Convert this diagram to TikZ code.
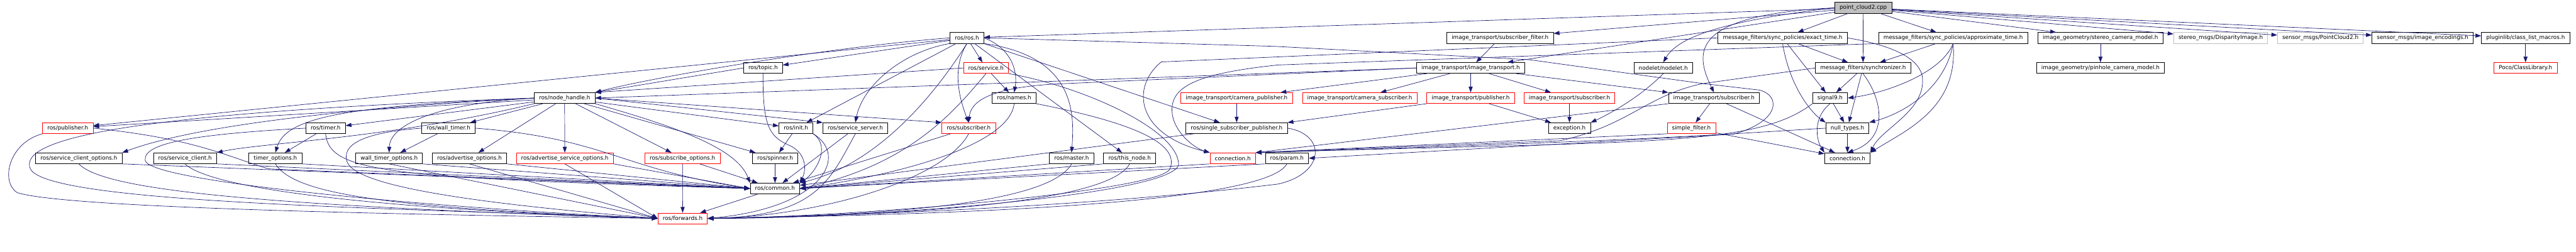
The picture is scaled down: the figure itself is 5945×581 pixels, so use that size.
\documentclass[tikz,border=0pt]{standalone}
\usepackage{fontspec}
\usepackage{tikz}
\usetikzlibrary{arrows.meta}
\newfontfamily\graphfont{DejaVu Sans}
\definecolor{edgeblue}{RGB}{25,25,112}
\definecolor{srcgrey}{RGB}{191,191,191}

\begin{document}
\begin{tikzpicture}[x=0.75pt, y=-0.75pt,
  file/.style={draw=black, line width=0.8pt, minimum height=18.75pt, inner xsep=8.4pt, inner ysep=0pt,
    font=\graphfont\fontsize{9.6}{11}\selectfont},
  trunc/.style={file, draw=red},
  nodoc/.style={file, draw=srcgrey},
  src/.style={file, fill=srcgrey},
  inc/.style={draw=edgeblue, line width=0.75pt, -{Triangle[length=10pt, width=7pt]}}]
  \useasboundingbox (0,0) rectangle (5945,581);

  \node[src] (pc) at (4300,18) {point\_cloud2.cpp};

  \node[file] (ros) at (2231.5,87.5) {ros/ros.h};
  \node[file] (itsf) at (3462,87.5) {image\_transport/subscriber\_filter.h};
  \node[file] (exact) at (4114,87.5) {message\_filters/sync\_policies/exact\_time.h};
  \node[file] (approx) at (4507.5,87.5) {message\_filters/sync\_policies/approximate\_time.h};
  \node[file] (stereo) at (4847.5,87.5) {image\_geometry/stereo\_camera\_model.h};
  \node[nodoc] (disp) at (5125,87.5) {stereo\_msgs/DisparityImage.h};
  \node[nodoc] (pctwo) at (5355,87.5) {sensor\_msgs/PointCloud2.h};
  \node[file] (enc) at (5591,87.5) {sensor\_msgs/image\_encodings.h};
  \node[file] (plm) at (5828.5,87.5) {pluginlib/class\_list\_macros.h};

  \node[file] (topic) at (1761,157) {ros/topic.h};
  \node[trunc] (service) at (2275.5,157) {ros/service.h};
  \node[file] (itit) at (3394,157) {image\_transport/image\_transport.h};
  \node[file] (nodelet) at (3838.5,157) {nodelet/nodelet.h};
  \node[file] (sync) at (4299.5,157) {message\_filters/synchronizer.h};
  \node[file] (pinhole) at (4847.5,157) {image\_geometry/pinhole\_camera\_model.h};
  \node[trunc] (poco) at (5828.5,157) {Poco/ClassLibrary.h};

  \node[file] (nh) at (1303,226.5) {ros/node\_handle.h};
  \node[file] (names) at (2340.5,226.5) {ros/names.h};
  \node[trunc] (itcp) at (2854,226.5) {image\_transport/camera\_publisher.h};
  \node[trunc] (itcs) at (3138,226.5) {image\_transport/camera\_subscriber.h};
  \node[trunc] (itpub) at (3394,226.5) {image\_transport/publisher.h};
  \node[trunc] (itsub) at (3622,226.5) {image\_transport/subscriber.h};
  \node[file] (itsubb) at (3955.5,226.5) {image\_transport/subscriber.h};
  \node[file] (sig9) at (4223.5,226.5) {signal9.h};

  \node[trunc] (pub) at (156.5,296) {ros/publisher.h};
  \node[file] (timer) at (751.5,296) {ros/timer.h};
  \node[file] (wtimer) at (1035,296) {ros/wall\_timer.h};
  \node[file] (init) at (1837,296) {ros/init.h};
  \node[file] (srvsrv) at (1974,296) {ros/service\_server.h};
  \node[trunc] (sub) at (2235.5,296) {ros/subscriber.h};
  \node[file] (ssp) at (2854,296) {ros/single\_subscriber\_publisher.h};
  \node[file] (exc) at (3622,296) {exception.h};
  \node[trunc] (sf) at (3903.5,296) {simple\_filter.h};
  \node[file] (nullt) at (4263.5,296) {null\_types.h};

  \node[file] (scopt) at (182,365.5) {ros/service\_client\_options.h};
  \node[file] (sclient) at (427,365.5) {ros/service\_client.h};
  \node[file] (tmopt) at (635.5,365.5) {timer\_options.h};
  \node[file] (wtmopt) at (898,365.5) {wall\_timer\_options.h};
  \node[file] (advopt) at (1083.5,365.5) {ros/advertise\_options.h};
  \node[trunc] (advsrvopt) at (1303.5,365.5) {ros/advertise\_service\_options.h};
  \node[trunc] (subopt) at (1575,365.5) {ros/subscribe\_options.h};
  \node[file] (spin) at (1789,365.5) {ros/spinner.h};
  \node[file] (master) at (2473,365.5) {ros/master.h};
  \node[file] (thisn) at (2607,365.5) {ros/this\_node.h};
  \node[trunc] (conr) at (2845,365.5) {connection.h};
  \node[file] (param) at (2970,365.5) {ros/param.h};
  \node[file] (conb) at (4263.5,365.5) {connection.h};

  \node[file] (common) at (1788.5,435.5) {ros/common.h};
  \node[trunc] (fwd) at (1575.5,504.5) {ros/forwards.h};

  \foreach \t in {ros,itsf,exact,sync,approx,stereo,disp,pctwo,enc,plm,itit}
    \draw[inc] (pc) -- (\t);
  \draw[inc] (pc.west) .. controls (3960,50) and (3870,90) .. (nodelet.north);
  \draw[inc] (pc.west) .. controls (3900,35) and (3910,120) .. (itsubb.north);

  \draw[inc] (ros) -- (pub);
  \draw[inc] (ros.west) .. controls (1900,110) and (1500,180) .. (nh.north east);
  \draw[inc] (ros) -- (topic);
  \draw[inc] (ros) -- (init);
  \draw[inc] (ros.south west) .. controls (2080,120) and (1990,200) .. (srvsrv.north);
  \draw[inc] (ros.south) .. controls (2195,160) and (2215,230) .. (sub.north);
  \draw[inc] (ros) -- (service);
  \draw[inc] (ros.east) .. controls (2330,110) and (2350,160) .. (names.north);
  \draw[inc] (ros.south) .. controls (2150,230) and (2020,380) .. (common.north east);
  \draw[inc] (ros) -- (ssp);
  \draw[inc] (ros.south east) .. controls (2480,130) and (2480,260) .. (master.north);
  \draw[inc] (ros) -- (thisn);
  \draw[inc] (ros.east) -- (2940,107) -- (3530,138) -- (3930,193) -- (4060,208)
    .. controls (4110,220) and (4110,280) .. (4000,310) -- (param.east);

  \draw[inc] (topic.west) -- (nh.north east);
  \draw[inc] (topic.south) .. controls (1760,290) and (1775,315) .. (1820,335)
    .. controls (1860,352) and (1862,390) .. (common.north east);

  \draw[inc] (service.west) -- (nh.north east);
  \draw[inc] (service) -- (names);
  \draw[inc] (service.south) .. controls (2200,260) and (2100,380) .. (common.east);
  \draw[inc] (service.south east) .. controls (2500,200) and (2720,300) .. (2720,380)
    .. controls (2710,450) and (2000,505) .. (fwd.east);

  \draw[inc] (names.south) .. controls (2330,330) and (2100,400) .. (common.east);
  \draw[inc] (names.south east) .. controls (2650,290) and (2720,340) .. (2700,390)
    .. controls (2680,440) and (2000,500) .. (fwd.east);

  \draw[inc] (nh) -- (pub);
  \draw[inc] (nh.west) .. controls (800,250) and (450,290) .. (scopt.north east);
  \draw[inc] (nh.south west) .. controls (900,320) and (600,330) .. (sclient.north east);
  \draw[inc] (nh) -- (timer);
  \draw[inc] (nh.west) .. controls (800,245) and (660,270) .. (tmopt.north);
  \draw[inc] (nh) -- (wtimer);
  \draw[inc] (nh.west) .. controls (1000,240) and (900,290) .. (wtmopt.north);
  \foreach \t in {advopt,advsrvopt,subopt,spin,init}
    \draw[inc] (nh) -- (\t);
  \draw[inc] (nh.east) -- (srvsrv.north west);
  \draw[inc] (nh.east) -- (sub.north west);
  \draw[inc] (nh.south east) .. controls (1550,290) and (1700,340) .. (common.north west);
  \draw[inc] (nh.west) .. controls (300,260) and (40,320) .. (70,390)
    .. controls (110,470) and (900,480) .. (fwd.west);

  \draw[inc] (pub.east) .. controls (450,320) and (520,360) .. (620,390) -- (common.west);
  \draw[inc] (pub.south west) .. controls (20,330) and (0,420) .. (40,445)
    .. controls (150,480) and (900,495) .. (fwd.west);

  \draw[inc] (scopt.south east) -- (common.west);
  \draw[inc] (scopt.south) .. controls (240,440) and (600,475) .. (fwd.west);
  \draw[inc] (sclient.south east) -- (common.west);
  \draw[inc] (sclient.south) .. controls (480,430) and (800,480) .. (fwd.west);

  \draw[inc] (timer) -- (tmopt);
  \draw[inc] (timer.south) .. controls (760,400) and (900,410) .. (common.west);
  \draw[inc] (timer.west) .. controls (450,310) and (330,330) .. (335,370)
    .. controls (340,420) and (1000,480) .. (fwd.west);
  \draw[inc] (tmopt.south east) -- (common.west);
  \draw[inc] (tmopt.south) .. controls (680,450) and (900,480) .. (fwd.west);

  \draw[inc] (wtimer) -- (wtmopt);
  \draw[inc] (wtimer.east) .. controls (1400,320) and (1430,390) .. (common.west);
  \draw[inc] (wtimer.west) .. controls (850,305) and (790,330) .. (800,370)
    .. controls (810,430) and (1100,470) .. (fwd.west);

  \foreach \n in {wtmopt,advopt,advsrvopt}{
    \draw[inc] (\n.south east) -- (common.west);
    \draw[inc] (\n.south) -- (fwd.west);
  }
  \draw[inc] (subopt) -- (common);
  \draw[inc] (subopt) -- (fwd);
  \draw[inc] (spin) -- (common);

  \draw[inc] (init) -- (spin);
  \draw[inc] (init.south east) .. controls (1920,340) and (1880,400) .. (common.north east);
  \draw[inc] (init.south east) .. controls (1960,360) and (1900,480) .. (fwd.east);

  \draw[inc] (srvsrv) -- (common);
  \draw[inc] (sub) -- (common);
  \foreach \n in {master,thisn,param}
    \draw[inc] (\n.south west) -- (common.east);
  \foreach \n in {srvsrv,sub,master,thisn,param}
    \draw[inc] (\n.south) .. controls +(-60,110) and +(250,-5) .. (fwd.east);
  \draw[inc] (ssp) -- (common);
  \draw[inc] (ssp.east) .. controls (3060,310) and (3060,400) .. (2950,425)
    .. controls (2500,480) and (1900,500) .. (fwd.east);
  \draw[inc] (conr.south west) -- (common.east);
  \draw[inc] (common) -- (fwd);

  \draw[inc] (itcp) -- (ssp);
  \foreach \t in {itcp,itcs,itpub,itsub,itsubb}
    \draw[inc] (itit) -- (\t);
  \draw[inc] (itit.west) -- (nh.east);
  \draw[inc] (itit.west) -- (2460,193) .. controls (2270,200) and (2240,240) .. (sub.north);
  \draw[inc] (itpub.south west) -- (ssp.north east);
  \draw[inc] (itpub) -- (exc);
  \draw[inc] (itsub) -- (exc);
  \draw[inc] (itsf) -- (itit);
  \draw[inc] (nodelet.south) .. controls (3780,230) and (3700,270) .. (exc.north east);

  \draw[inc] (itsubb) -- (sf);
  \draw[inc] (itsubb) -- (conb);
  \draw[inc] (itsubb.south west) -- (conr.north east);
  \draw[inc] (sf) -- (conb);
  \draw[inc] (sf.south west) -- (conr.north east);

  \draw[inc] (exact) -- (sync);
  \draw[inc] (exact) -- (sig9);
  \draw[inc] (exact.south) .. controls (4130,200) and (4180,260) .. (nullt.north west);
  \draw[inc] (exact.east) .. controls (4400,110) and (4440,150) .. (4437,190)
    .. controls (4435,260) and (4340,300) .. (conb.north east);
  \draw[inc] (exact.west) -- (2680,143) .. controls (2610,200) and (2620,310) .. (conr.north west);

  \draw[inc] (approx) -- (sync);
  \draw[inc] (approx.south) .. controls (4480,170) and (4350,215) .. (sig9.east);
  \draw[inc] (approx.south) .. controls (4490,200) and (4400,260) .. (nullt.north east);
  \draw[inc] (approx.south) .. controls (4520,250) and (4400,300) .. (conb.north east);
  \draw[inc] (approx.south west) -- (2950,150) .. controls (2760,170) and (2700,200) .. (2705,260)
    .. controls (2708,300) and (2750,340) .. (conr.north west);

  \draw[inc] (sync) -- (sig9);
  \draw[inc] (sync) -- (nullt);
  \draw[inc] (sync.south) .. controls (4345,230) and (4360,320) .. (conb.north);
  \draw[inc] (sync.west) -- (3930,193) .. controls (3800,220) and (3760,290) .. (3600,325) -- (conr.north east);

  \draw[inc] (sig9) -- (nullt);
  \draw[inc] (sig9.south) .. controls (4185,270) and (4190,320) .. (conb.north west);
  \draw[inc] (sig9.south west) .. controls (4050,340) and (3800,325) .. (conr.north east);
  \draw[inc] (nullt) -- (conb);
  \draw[inc] (nullt.west) .. controls (3980,310) and (3800,325) .. (conr.north east);

  \draw[inc] (stereo) -- (pinhole);
  \draw[inc] (plm) -- (poco);
\end{tikzpicture}
\end{document}
